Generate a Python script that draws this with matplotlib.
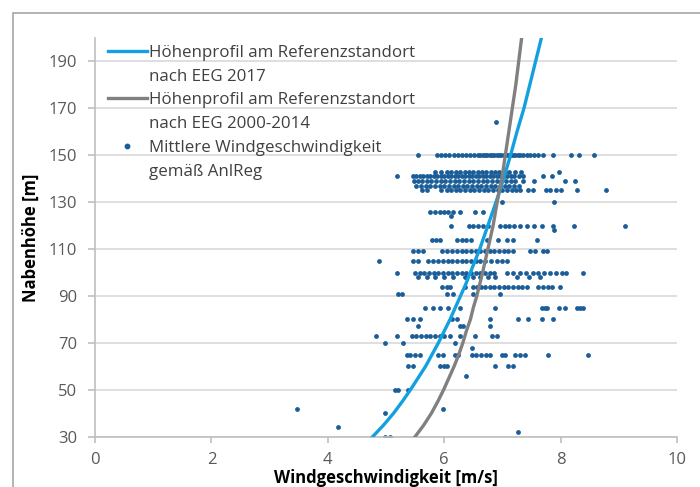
import matplotlib
matplotlib.use("Agg")
import matplotlib.pyplot as plt
from matplotlib.lines import Line2D
from matplotlib.patches import Rectangle

plt.rcParams['font.family'] = ['Open Sans', 'DejaVu Sans']

# height profiles (hub height in m -> wind speed in m/s)
profile_height = [30, 35, 40, 45, 50, 55, 60, 65, 70, 75, 80, 85, 90, 95, 100,
                  110, 120, 130, 140, 150, 160, 170, 180, 190, 200]
profile_eeg2017 = [4.77, 4.96, 5.13, 5.28, 5.42, 5.55, 5.68, 5.79, 5.90, 6.00, 6.10, 6.19,
                   6.28, 6.37, 6.45, 6.61, 6.75, 6.89, 7.02, 7.14, 7.25, 7.37, 7.47, 7.57, 7.67]
profile_eeg2000 = [5.50, 5.65, 5.78, 5.89, 5.99, 6.08, 6.17, 6.25, 6.32, 6.38, 6.45, 6.50,
                   6.56, 6.61, 6.66, 6.75, 6.84, 6.91, 6.99, 7.05, 7.11, 7.17, 7.23, 7.28, 7.33]

# mean wind speeds from AnlReg, grouped by hub height
anlreg = {
    164: [6.89],
    150: [5.55, 5.88, 5.95, 6.02, 6.09, 6.16, 6.23, 6.30, 6.37, 6.44, 6.51, 6.58, 6.62, 6.66,
          6.70, 6.74, 6.78, 6.82, 6.86, 6.90, 6.94, 6.98, 7.02, 7.06, 7.10, 7.14, 7.18, 7.22,
          7.26, 7.30, 7.36, 7.42, 7.48, 7.55, 7.62, 7.70, 7.87, 8.18, 8.32, 8.58],
    143: [5.85, 5.95, 6.05, 6.12, 6.20, 6.28, 6.35, 6.42, 6.50, 6.58, 6.65, 6.72, 6.80, 6.88,
          6.95, 7.05, 7.12, 7.22, 7.32, 7.97],
    141: [5.19, 5.46, 5.52, 5.58, 5.64, 5.70, 5.76, 5.82, 5.88, 5.94, 6.00, 6.06, 6.12, 6.18,
          6.24, 6.30, 6.36, 6.42, 6.48, 6.54, 6.60, 6.66, 6.72, 6.78, 6.84, 6.90, 6.96, 7.02,
          7.08, 7.14, 7.20, 7.28, 7.36, 7.70, 7.85],
    139: [5.48, 5.55, 5.62, 5.70, 5.78, 5.86, 5.94, 6.02, 6.10, 6.18, 6.26, 6.34, 6.42, 6.50,
          6.58, 6.66, 6.74, 6.82, 6.90, 6.98, 7.06, 7.14, 7.22, 7.35, 7.55, 8.08, 8.25],
    137: [5.52, 5.60, 5.68, 5.76, 5.84, 5.92, 6.00, 6.08, 6.16, 6.24, 6.32, 6.40, 6.48, 6.56,
          6.64, 6.72, 6.80, 6.88, 6.96, 7.04, 7.12, 7.20, 7.28],
    135: [5.62, 5.70, 5.95, 6.05, 6.12, 6.20, 6.28, 6.36, 6.44, 6.52, 6.60, 6.68, 6.76, 6.84,
          6.92, 7.00, 7.08, 7.16, 7.24, 7.30, 7.44, 7.52, 7.75, 7.82, 7.92, 8.00, 8.28, 8.78],
    130: [7.00, 7.89],
    126: [5.76, 5.84, 5.92, 6.00, 6.07, 6.15, 6.27, 6.53, 6.67],
    124: [6.12],
    120: [6.12, 6.42, 6.50, 6.58, 6.66, 6.76, 6.96, 7.04, 7.12, 7.20, 7.30, 7.42, 7.55, 7.68,
          7.87, 8.23, 9.11],
    118: [7.89],
    114: [5.79, 5.86, 5.93, 6.22, 6.30, 6.38, 6.46, 6.73, 6.92, 7.08, 7.18, 7.59],
    109: [5.46, 5.55, 5.64, 5.96, 6.05, 6.14, 6.22, 6.30, 6.38, 6.46, 6.54, 6.62, 6.70, 6.78,
          6.86, 6.94, 7.02, 7.10, 7.18, 7.47, 7.56, 7.70, 7.77],
    105: [4.88, 5.46, 5.55, 5.72, 5.81, 5.90, 5.98, 6.06, 6.14, 6.22, 6.30, 6.38, 6.46, 6.54,
          6.62, 6.70, 6.80, 6.90, 7.00, 7.08],
    100: [5.19, 5.50, 5.58, 5.66, 5.74, 5.82, 5.90, 5.98, 6.06, 6.14, 6.22, 6.30, 6.38, 6.46,
          6.54, 6.62, 6.70, 6.78, 6.86, 7.08, 7.18, 7.30, 7.40, 7.52, 7.62, 7.72, 7.82, 7.92,
          8.02, 8.10, 8.39],
    98: [5.55, 5.70, 5.85, 6.00, 6.15, 6.35, 6.50, 6.62, 6.75, 6.88, 7.25, 7.45, 7.65],
    94: [5.96, 6.04, 6.10, 6.36, 6.50, 6.56, 6.63, 6.70, 6.78, 6.86, 6.94, 7.02, 7.10, 7.18,
         7.26, 7.34, 7.42, 7.62, 7.70, 7.78, 7.86, 7.99],
    91: [5.20, 5.28, 6.05, 6.15, 6.50, 6.96],
    85: [5.67, 5.80, 5.93, 6.07, 6.27, 6.87, 7.68, 7.74, 7.77, 7.98, 8.08, 8.28, 8.34, 8.39],
    80: [5.36, 5.47, 5.58, 6.13, 6.22, 6.79, 7.27, 7.44, 7.68, 7.87],
    77: [5.55, 6.28, 6.32, 6.79],
    73: [4.83, 5.19, 5.45, 5.52, 5.60, 5.68, 5.76, 5.84, 5.92, 6.00, 6.10, 6.27, 6.53, 6.82, 6.90],
    70: [4.98, 5.29, 6.19],
    68: [6.47],
    65: [5.36, 5.42, 5.50, 5.58, 5.90, 5.98, 6.19, 6.24, 6.47, 6.55, 6.63, 6.71, 6.79, 7.00,
         7.05, 7.22, 7.30, 7.39, 7.78, 8.47],
    60: [5.38, 5.46, 5.93, 5.99, 6.05, 6.87, 7.10, 7.18],
    56: [6.37],
    50: [5.15, 5.20, 5.38],
    42: [3.47, 5.98],
    40: [4.98],
    34: [4.18],
    32: [7.27],
    30: [4.98, 5.07],
}

scatter_x = []
scatter_y = []
for h, speeds in anlreg.items():
    for v in speeds:
        scatter_x.append(v)
        scatter_y.append(h)

blue = '#12a0e0'
grey = '#808080'
dot = '#1a5d98'
axis_grey = '#bfbfbf'
text_grey = '#595959'

fig = plt.figure(figsize=(7, 4.87), dpi=100)
ax = fig.add_axes([95/700, 1 - 436.7/487, (677 - 95)/700, (436.7 - 38)/487])

# chart area border (cropped at right and bottom)
fig.patches.append(Rectangle((13/700, -0.2), 1.2, 1.2 - 13/487, transform=fig.transFigure,
                             fill=False, edgecolor='#a6a6a6', linewidth=1.2))

ax.scatter(scatter_x, scatter_y, s=12, color=dot, linewidths=0, zorder=2)
ax.plot(profile_eeg2017, profile_height, color=blue, linewidth=2.4, zorder=3,
        solid_joinstyle='round')
ax.plot(profile_eeg2000, profile_height, color=grey, linewidth=2.4, zorder=3,
        solid_joinstyle='round')

ax.set_xlim(0, 10)
ax.set_ylim(30, 200)
ax.set_xticks([0, 2, 4, 6, 8, 10])
ax.set_yticks([30, 50, 70, 90, 110, 130, 150, 170, 190])
ax.grid(axis='y', color='#d9d9d9', linewidth=1.2, zorder=0)
ax.set_axisbelow(True)

for side in ['top', 'right']:
    ax.spines[side].set_visible(False)
for side in ['left', 'bottom']:
    ax.spines[side].set_color(axis_grey)
    ax.spines[side].set_linewidth(1.2)

ax.tick_params(axis='y', length=5, width=1.2, color=axis_grey, labelcolor=text_grey,
               labelsize=12, pad=8)
ax.tick_params(axis='x', length=4, width=1.2, color=axis_grey, labelcolor=text_grey,
               labelsize=12, pad=7)

ax.set_xlabel('Windgeschwindigkeit [m/s]', fontsize=12, fontweight='bold', labelpad=1)
ax.set_ylabel('Nabenhöhe [m]', fontsize=12, fontweight='bold', labelpad=6)

empty = Line2D([], [], color='none')
handles = [Line2D([], [], color=blue, linewidth=2.4), empty,
           Line2D([], [], color=grey, linewidth=2.4), empty,
           Line2D([], [], marker='o', linestyle='none', markersize=3.2, color=dot), empty]
labels = ['Höhenprofil am Referenzstandort', 'nach EEG 2017',
          'Höhenprofil am Referenzstandort', 'nach EEG 2000-2014',
          'Mittlere Windgeschwindigkeit', 'gemäß AnlReg']
leg = ax.legend(handles, labels, loc='upper left', bbox_to_anchor=(13/582, 0.983),
                frameon=False, fontsize=12.2, handlelength=2.3, handletextpad=0.12,
                labelspacing=0.46, borderaxespad=0, borderpad=0)
for t in leg.get_texts():
    t.set_color('#404040')

fig.savefig('out.png', dpi=100)
